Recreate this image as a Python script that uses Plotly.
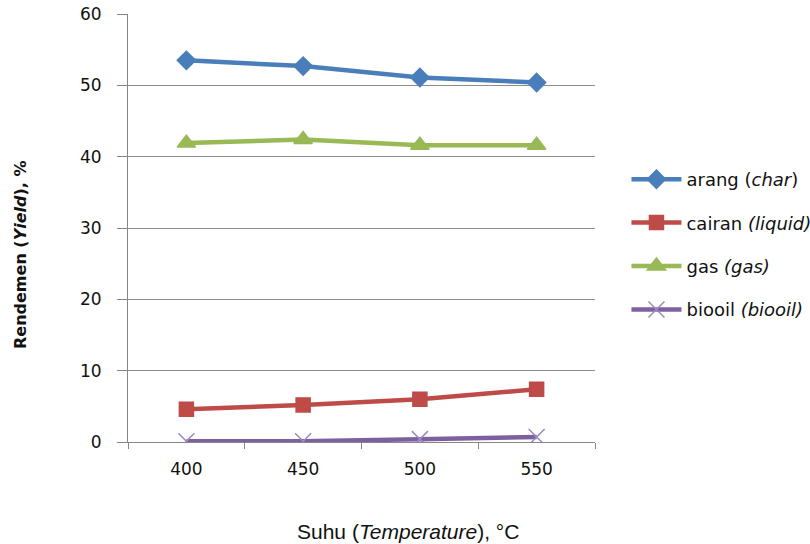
import plotly.graph_objects as go

categories = ["400", "450", "500", "550"]
arang = [53.5, 52.7, 51.1, 50.4]
cairan = [4.6, 5.2, 6.0, 7.4]
gas = [41.9, 42.4, 41.6, 41.6]
biooil = [0.1, 0.1, 0.4, 0.7]
y_ticks = [0, 10, 20, 30, 40, 50, 60]

series = [
    ("arang (<i>char</i>)", arang, "#4A7EBB", "diamond", 14, "#4A7EBB"),
    ("cairan <i>(liquid)</i>", cairan, "#BE4B48", "square", 14, "#BE4B48"),
    ("gas <i>(gas)</i>", gas, "#98B954", "triangle-up", 16, "#98B954"),
    ("biooil <i>(biooil)</i>", biooil, "#7D60A0", "x-thin-open", 16, "#9C88C4"),
]

fig = go.Figure()
for i, (name, vals, col, sym, sz, mcol) in enumerate(series):
    fig.add_trace(go.Scatter(
        x=categories, y=vals, name=name, mode="lines+markers",
        line=dict(color=col, width=4.5),
        marker=dict(symbol=sym, size=sz, color=mcol, line=dict(color=mcol, width=1.5)),
        legendgroup=str(i),
    ))

L, T, R, B = 128, 14, 215, 102
PW, PH = 810 - L - R, 544 - T - B

fig.update_layout(
    width=810, height=544,
    margin=dict(l=L, r=R, t=T, b=B, autoexpand=False),
    paper_bgcolor="white", plot_bgcolor="white",
    font=dict(family="DejaVu Sans, Verdana, sans-serif", size=17, color="#111"),
    showlegend=True,
    legend=dict(x=0.7734, y=0.704, xref="container", yref="container",
                xanchor="left", yanchor="top",
                traceorder="grouped", tracegroupgap=17, itemwidth=50,
                font=dict(size=18, family="DejaVu Sans"),
                bgcolor="rgba(0,0,0,0)"),
    xaxis=dict(type="category", range=[-0.5, 3.5], tickson="boundaries",
               ticks="outside", ticklen=6, tickcolor="#868686",
               showline=True, linecolor="#868686", linewidth=1,
               showgrid=False, zeroline=False, ticklabelstandoff=12,
               automargin=False, tickfont=dict(size=17)),
    yaxis=dict(range=[0, 60], tickvals=y_ticks, ticks="outside", ticklen=10,
               tickcolor="#868686", showline=True, linecolor="#868686", linewidth=1,
               showgrid=True, gridcolor="#8c8c8c", gridwidth=1, zeroline=False,
               ticklabelstandoff=12, ticklabeloverflow="allow", automargin=False,
               tickfont=dict(size=17)),
    annotations=[
        dict(text="<b>Rendemen (<i>Yield</i>), %</b>", textangle=-90,
             xref="paper", yref="paper", x=(20 - L) / PW, y=1 - (255 - T) / PH,
             xanchor="center", yanchor="middle", showarrow=False,
             font=dict(size=16, family="DejaVu Sans")),
        dict(text="Suhu (<i>Temperature</i>), °C",
             xref="paper", yref="paper", x=(408 - L) / PW, y=1 - (531 - T) / PH,
             xanchor="center", yanchor="middle", showarrow=False,
             font=dict(size=21, family="Liberation Sans")),
    ],
)

fig.write_html("out.html", config={"displayModeBar": False},
               post_script="document.body.style.margin='0';")
